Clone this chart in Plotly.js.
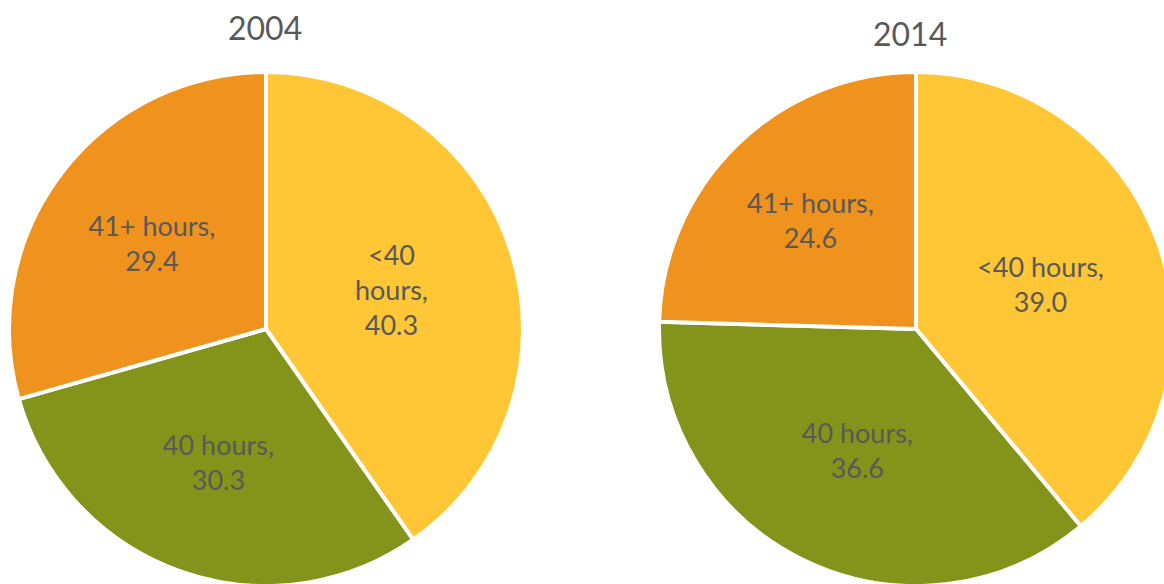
<!DOCTYPE html>
<html>
<head>
<meta charset="utf-8">
<script src="https://cdn.plot.ly/plotly-3.0.1.min.js"></script>
<style>
html, body { margin: 0; padding: 0; overflow: hidden; background: #fff; width: 1164px; height: 584px; }
#chart { width: 1180px; height: 600px; }
</style>
</head>
<body>
<div id="chart"></div>
<script>
// Data
const categories = ['<40 hours', '40 hours', '41+ hours'];
const years = ['2004', '2014'];
const values2004 = [40.3, 30.3, 29.4];
const values2014 = [39.0, 36.6, 24.6];
// label wording as it wraps inside each slice
const sliceLabels2004 = ['<40<br>hours', '40 hours', '41+ hours'];
const sliceLabels2014 = ['<40 hours', '40 hours', '41+ hours'];
const colors = ['#FFC735', '#84941A', '#F0921E'];

const textColor = '#595959';
const fontFam = 'Lato, "Open Sans", sans-serif';

function makeText(lbls, vals) {
  return lbls.map((l, i) => l + ',<br>' + vals[i].toFixed(1));
}

function pieTrace(vals, lbls, domain) {
  return {
    type: 'pie',
    labels: categories,
    values: vals,
    text: makeText(lbls, vals),
    texttemplate: '%{text}',
    textinfo: 'text',
    textposition: 'inside',
    insidetextorientation: 'horizontal',
    insidetextfont: { family: fontFam, size: 27, color: textColor },
    sort: false,
    direction: 'clockwise',
    rotation: 0,
    marker: { colors: colors, line: { color: '#ffffff', width: 4 } },
    domain: domain,
    hoverinfo: 'none',
    showlegend: false
  };
}

const W = 1180, H = 600;
const data = [
  pieTrace(values2004, sliceLabels2004, { x: [9 / W, 523 / W], y: [14 / H, 528 / H] }),
  pieTrace(values2014, sliceLabels2014, { x: [659 / W, 1173 / W], y: [14 / H, 528 / H] })
];

const layout = {
  width: W,
  height: H,
  margin: { l: 0, r: 0, t: 0, b: 0 },
  paper_bgcolor: '#ffffff',
  showlegend: false,
  annotations: [
    { text: years[0], x: 265 / W, y: 1 - 28 / H, xref: 'paper', yref: 'paper', xanchor: 'center', yanchor: 'middle', showarrow: false, font: { family: fontFam, size: 32, color: textColor } },
    { text: years[1], x: 910 / W, y: 1 - 33 / H, xref: 'paper', yref: 'paper', xanchor: 'center', yanchor: 'middle', showarrow: false, font: { family: fontFam, size: 32, color: textColor } }
  ]
};

Plotly.newPlot('chart', data, layout, { displayModeBar: false, staticPlot: true });
</script>
</body>
</html>
